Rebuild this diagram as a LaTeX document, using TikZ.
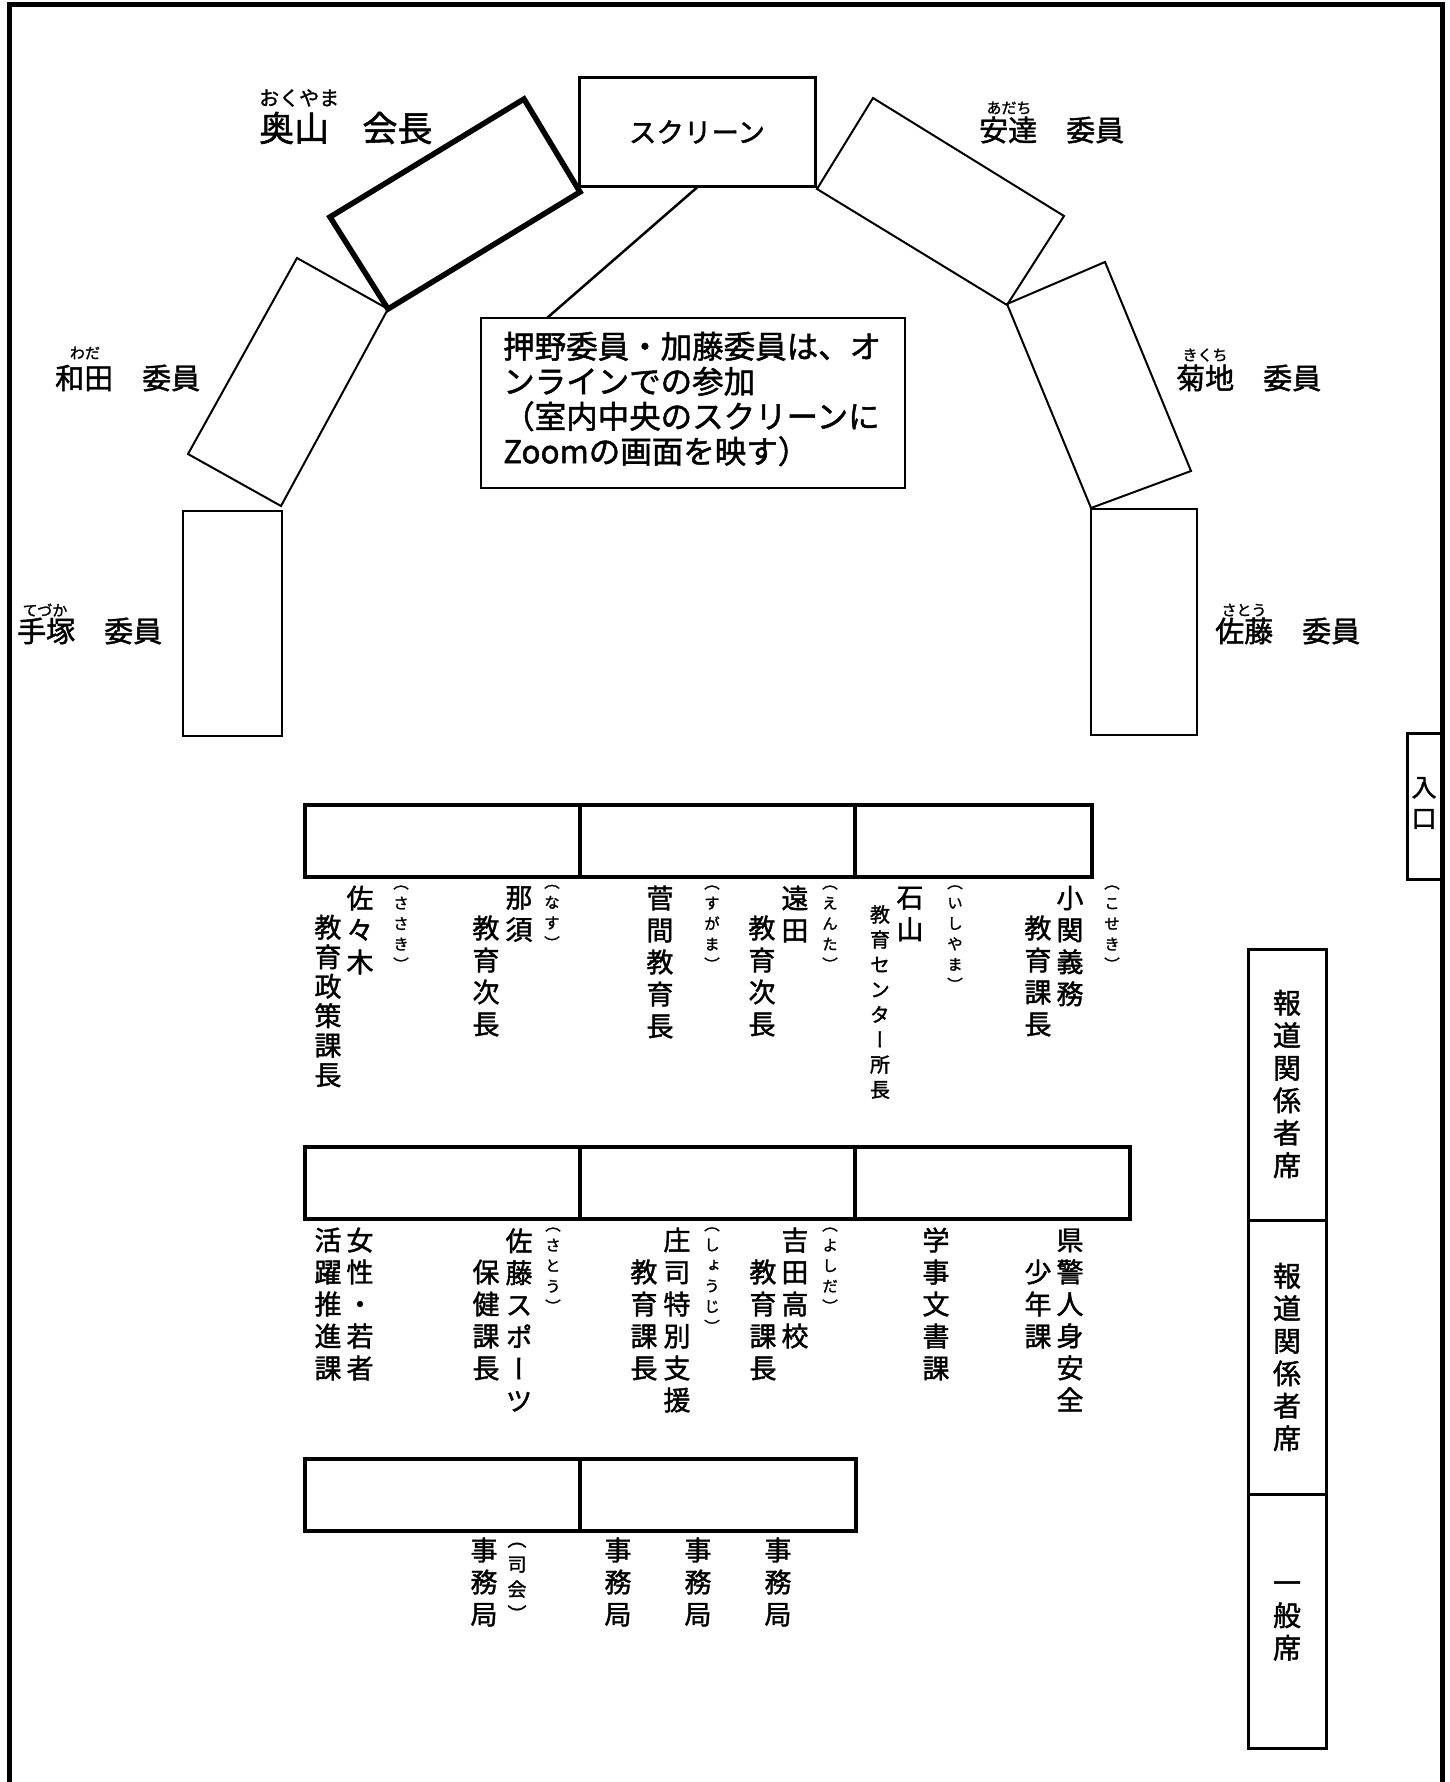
\documentclass[tikz,border=0pt]{standalone}
\usepackage{fontspec}
\newfontfamily\jp[FakeBold=1.5]{Noto Sans CJK JP}
\newfontfamily\jpv[RawFeature=+vert,FakeBold=1.5]{Noto Sans CJK JP}
\begin{document}
\begin{tikzpicture}[x=1pt,y=-1pt,
  seat/.style={line width=2pt, line join=miter},
  chair/.style={line width=5.5pt, line join=miter},
  tbl/.style={line width=3.5pt},
  pressbox/.style={line width=3pt},
  lbl/.style={font=\jp\fontsize{29}{34}\selectfont, inner sep=0, anchor=west},
  biglbl/.style={font=\jp\fontsize{35}{40}\selectfont, inner sep=0, anchor=west},
  furi/.style={font=\jp\fontsize{15}{18}\selectfont, inner sep=0},
  bigfuri/.style={font=\jp\fontsize{20}{24}\selectfont, inner sep=0, anchor=west},
  vt/.style={font=\jpv\fontsize{27}{32}\selectfont, align=center, inner sep=0},
  vtnarrow/.style={font=\jpv\fontsize{27}{29.5}\selectfont, align=center, inner sep=0},
  vtsmall/.style={font=\jpv\fontsize{20}{25}\selectfont, align=center, inner sep=0},
  vfuri/.style={font=\jpv\fontsize{15.5}{20.5}\selectfont, align=center, inner sep=0},
  vfurib/.style={font=\jpv\fontsize{19}{25}\selectfont, align=center, inner sep=0},
  vpress/.style={font=\jpv\fontsize{28}{32.5}\selectfont, align=center, inner sep=0}
]
\fill[white] (0,0) rectangle (1450,1782);
\useasboundingbox (0,0) rectangle (1450,1782);

% room frame (open at the bottom)
\draw[line width=5pt] (9,1782) -- (9,5) -- (1442,5) -- (1442,1782);

% entrance
\draw[pressbox] (1442,733) -- (1407,733) -- (1407,879) -- (1442,879);
\node[vpress, font=\jpv\fontsize{25}{31}\selectfont] (entrance) at (1424,803) {入\\口};

% committee seats
\draw[seat] (297,258) -- (388,309) -- (281,506) -- (188,454) -- cycle;
\draw[chair] (330,217) -- (524,99) -- (580,192) -- (388,309) -- cycle;
\draw[seat] (183,511) rectangle (282,736);
\draw[seat] (817,189) -- (873,98) -- (1064,216) -- (1007,305) -- cycle;
\draw[seat] (1007,304) -- (1105,262) -- (1191,471) -- (1091,508) -- cycle;
\draw[seat] (1091,509) rectangle (1197,735);

% screen and note
\node[draw, line width=3pt, minimum width=236pt, minimum height=108pt, inner sep=0,
      font=\jp\fontsize{27.5}{32}\selectfont] (screen) at (697,132) {スクリーン};
\node[draw, line width=2pt, minimum width=424pt, minimum height=170pt, inner sep=0] (callout) at (693,403) {};
\node[anchor=west, inner sep=0, align=left, font=\jp\fontsize{31.5}{35}\selectfont] (callouttext) at (503,399)
  {押野委員・加藤委員は、オ\\ンラインでの参加\\（室内中央のスクリーンに\\Zoomの画面を映す）};
\coordinate (cp) at (547,318);
\draw[line width=2.5pt] (screen.south) -- (cp);

% name labels
\node[bigfuri] (fokuyama) at (259,98) {おくやま};
\node[biglbl] (okuyama) at (259,128) {奥山\hspace{0.95em}会長};
\node[furi] (fwada) at (85,353) {わだ};
\node[lbl] (wada) at (55,378) {和田　委員};
\node[furi] (ftezuka) at (45,610) {てづか};
\node[lbl] (tezuka) at (17,631) {手塚　委員};
\node[furi] (fadachi) at (1009,108) {あだち};
\node[lbl] (adachi) at (979,130) {安達　委員};
\node[furi] (fkikuchi) at (1205,355) {きくち};
\node[lbl] (kikuchi) at (1176,378) {菊地　委員};
\node[furi] (fsato) at (1244,610) {さとう};
\node[lbl] (sato) at (1215,631) {佐藤　委員};

% tables
\draw[tbl] (305,805) rectangle (1092,877) (580,805) -- (580,877) (855,805) -- (855,877);
\draw[tbl] (305,1147) rectangle (1130,1219) (580,1147) -- (580,1219) (855,1147) -- (855,1219);
\draw[tbl] (305,1459) rectangle (856,1531) (580,1459) -- (580,1531);

% row 1 names
\node[vtnarrow] (r1a) at (328,1001) {教\\育\\政\\策\\課\\長};
\node[vt] (r1b) at (360,930) {佐\\々\\木};
\node[vfuri] (r1bf) at (401,928) {（\\さ\\さ\\き\\）};
\node[vt] (r1c) at (486,976) {教\\育\\次\\長};
\node[vt] (r1d) at (519,914) {那\\須};
\node[vfuri] (r1df) at (552,917) {（\\な\\す\\）};
\node[vt] (r1e) at (660,962) {菅\\間\\教\\育\\長};
\node[vfuri] (r1ef) at (712,928) {（\\す\\が\\ま\\）};
\node[vt] (r1g) at (762,976) {教\\育\\次\\長};
\node[vt] (r1h) at (795,914) {遠\\田};
\node[vfuri] (r1hf) at (830,928) {（\\え\\ん\\た\\）};
\node[vtsmall] (r1i) at (880,1002) {教\\育\\セ\\ン\\タ\\ー\\所\\長};
\node[vt] (r1j) at (910,914) {石\\山};
\node[vfuri] (r1jf) at (955,938) {（\\い\\し\\や\\ま\\）};
\node[vt] (r1k) at (1038,976) {教\\育\\課\\長};
\node[vt] (r1l) at (1070,946) {小\\関\\義\\務};
\node[vfuri] (r1lf) at (1112,928) {（\\こ\\せ\\き\\）};

% row 2 names
\node[vt] (r2a) at (328,1304) {活\\躍\\推\\進\\課};
\node[vt] (r2b) at (360,1304) {女\\性\\・\\若\\者};
\node[vt] (r2c) at (486,1320) {保\\健\\課\\長};
\node[vt] (r2d) at (519,1320) {佐\\藤\\ス\\ポ\\ー\\ツ};
\node[vfuri] (r2df) at (553,1270) {（\\さ\\と\\う\\）};
\node[vt] (r2e) at (644,1320) {教\\育\\課\\長};
\node[vt] (r2f) at (677,1320) {庄\\司\\特\\別\\支\\援};
\node[vfuri] (r2ff) at (712,1280) {（\\し\\ょ\\う\\じ\\）};
\node[vt] (r2g) at (763,1320) {教\\育\\課\\長};
\node[vt] (r2h) at (795,1288) {吉\\田\\高\\校};
\node[vfuri] (r2hf) at (830,1270) {（\\よ\\し\\だ\\）};
\node[vt] (r2i) at (936,1304) {学\\事\\文\\書\\課};
\node[vt] (r2j) at (1038,1304) {少\\年\\課};
\node[vt] (r2k) at (1070,1320) {県\\警\\人\\身\\安\\全};

% row 3 names
\node[vt] (r3a) at (484,1582) {事\\務\\局};
\node[vfurib] (r3af) at (517,1582) {（\\司\\会\\）};
\node[vt] (r3b) at (618,1582) {事\\務\\局};
\node[vt] (r3c) at (698,1582) {事\\務\\局};
\node[vt] (r3d) at (778,1582) {事\\務\\局};

% press and public seats
\draw[pressbox] (1248,949) rectangle (1326,1748) (1248,1220) -- (1326,1220) (1248,1494) -- (1326,1494);
\node[vpress] (press1) at (1287,1084) {報\\道\\関\\係\\者\\席};
\node[vpress] (press2) at (1287,1357) {報\\道\\関\\係\\者\\席};
\node[vpress] (public) at (1287,1621) {一\\般\\席};
\end{tikzpicture}
\end{document}
